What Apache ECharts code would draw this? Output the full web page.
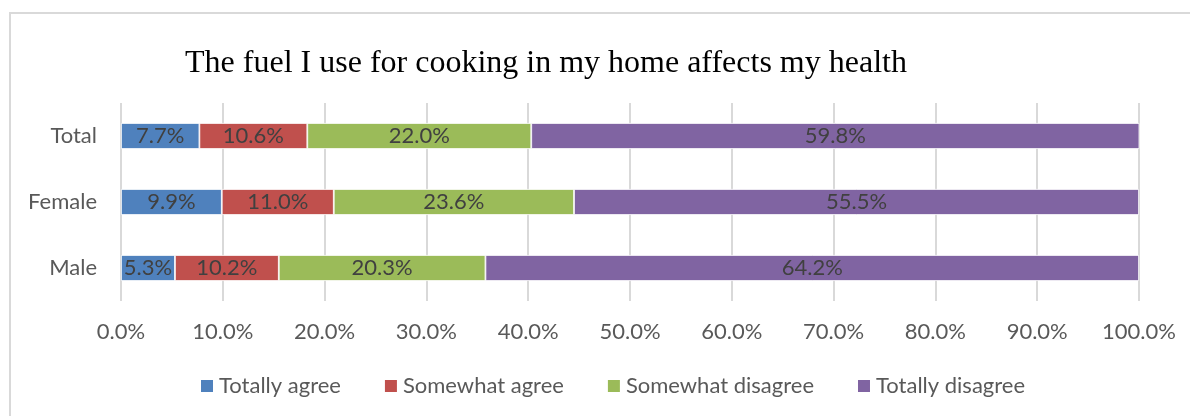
<!DOCTYPE html>
<html>
<head>
<meta charset="utf-8">
<style>
  html, body { margin: 0; padding: 0; background: #fff; }
  #frame { position: absolute; left: 9px; top: 12px; width: 1200px; height: 420px; border: 2px solid #d9d9d9; box-sizing: border-box; }
  #chart { position: absolute; left: 0; top: 0; width: 1190px; height: 416px; }
</style>
<script src="https://cdn.jsdelivr.net/npm/echarts@6/dist/echarts.min.js"></script>
</head>
<body>
<div id="frame"></div>
<div id="chart"></div>
<script>
// Groups shown on the vertical axis, bottom to top
const groups = ['Male', 'Female', 'Total'];

// Share of respondents per answer (percent), in the order of groups
const totallyAgree      = [5.3, 9.9, 7.7];
const somewhatAgree     = [10.2, 11.0, 10.6];
const somewhatDisagree  = [20.3, 23.6, 22.0];
const totallyDisagree   = [64.2, 55.5, 59.8];

const answerNames  = ['Totally agree', 'Somewhat agree', 'Somewhat disagree', 'Totally disagree'];
const answerColors = ['#4f81bd', '#c0504d', '#9bbb59', '#8064a2'];
const answerValues = [totallyAgree, somewhatAgree, somewhatDisagree, totallyDisagree];

const uiFont = 'Lato, "Open Sans", sans-serif';
const uiSize = 22;

const chart = echarts.init(document.getElementById('chart'), null, { renderer: 'canvas' });

chart.setOption({
  animation: false,
  backgroundColor: 'transparent',
  title: {
    text: 'The fuel I use for cooking in my home affects my health',
    left: 541,
    textAlign: 'center',
    top: 43,
    textStyle: {
      fontFamily: '"Liberation Serif", "Times New Roman", serif',
      fontWeight: 'normal',
      fontSize: 32,
      color: '#000'
    }
  },
  legend: {
    top: 375,
    left: 199,
    padding: 0,
    itemWidth: 14,
    itemHeight: 14,
    itemGap: 42,
    icon: 'rect',
    textStyle: { fontFamily: uiFont, fontSize: uiSize, color: '#595959' },
    data: answerNames
  },
  grid: {
    left: 121,
    right: 51,
    top: 103,
    height: 198,
    containLabel: false
  },
  xAxis: {
    type: 'value',
    min: 0,
    max: 100,
    interval: 10,
    axisLine: { show: false },
    axisTick: { show: false },
    splitLine: { show: true, lineStyle: { color: '#d9d9d9', width: 2 } },
    axisLabel: {
      margin: 20,
      fontFamily: uiFont,
      fontSize: uiSize,
      color: '#595959',
      formatter: v => v.toFixed(1) + '%'
    }
  },
  yAxis: {
    type: 'category',
    data: groups,
    axisLine: { show: false },
    axisTick: { show: false },
    axisLabel: {
      margin: 24,
      fontFamily: uiFont,
      fontSize: uiSize,
      color: '#595959'
    }
  },
  series: answerNames.map((name, i) => ({
    name,
    type: 'bar',
    stack: 'all',
    barWidth: 26,
    data: answerValues[i],
    itemStyle: { color: answerColors[i], borderColor: '#ffffff', borderWidth: 0.8 },
    label: {
      show: true,
      position: 'inside',
      fontFamily: uiFont,
      fontSize: uiSize,
      color: '#404040',
      formatter: p => p.value.toFixed(1) + '%'
    }
  }))
});
</script>
</body>
</html>
